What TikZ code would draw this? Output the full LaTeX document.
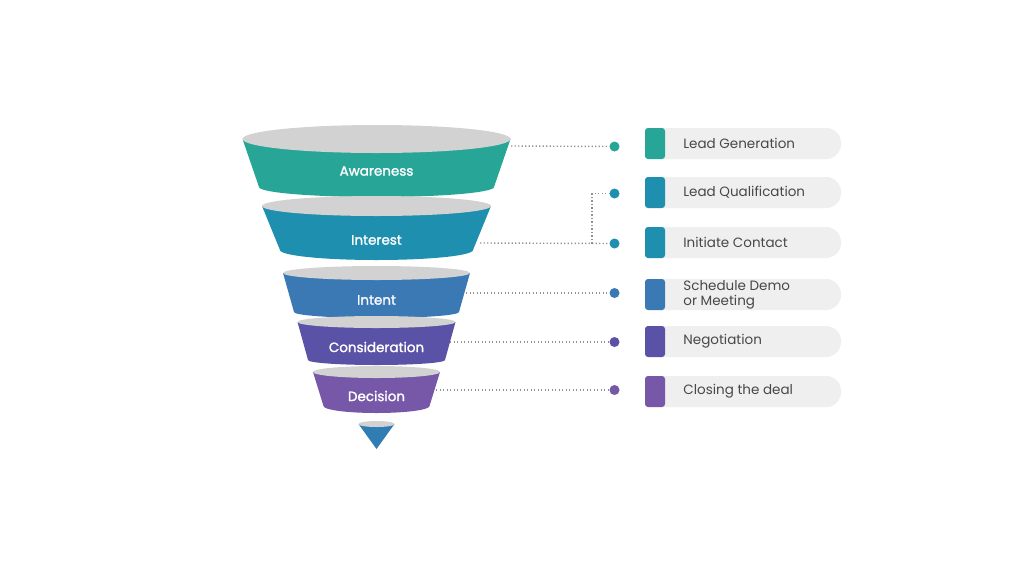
\documentclass[tikz,border=0pt]{standalone}
\usepackage{fontspec}
\setmainfont{Poppins}
\newfontfamily\stagefont[FakeBold=1.6]{Poppins}
\usetikzlibrary{positioning,calc}
\definecolor{awarecol}{HTML}{27A597}
\definecolor{interestcol}{HTML}{1E8FAE}
\definecolor{intentcol}{HTML}{3B79B5}
\definecolor{considcol}{HTML}{5A52A6}
\definecolor{decisioncol}{HTML}{7657A8}
\definecolor{tipcol}{HTML}{2F7DB3}
\definecolor{lidgray}{HTML}{D2D2D2}
\definecolor{cardgray}{HTML}{EFEFEF}
\definecolor{cardtextcol}{HTML}{484848}
\tikzset{
  lid/.style={fill=lidgray},
  stagelabel/.style={text=white,inner sep=0pt,font=\stagefont\fontsize{13.5}{15}\selectfont},
  hookdot/.style={circle,inner sep=0pt,minimum size=10pt},
  linkline/.style={line width=1.4pt,dash pattern=on 1.3pt off 2.2pt,color=gray!85},
  card/.style={fill=cardgray,rounded corners=15pt,minimum width=196pt,minimum height=31pt,inner sep=0pt},
  cardbar/.style={rounded corners=3pt,minimum width=20pt,minimum height=31pt,inner sep=0pt},
  cardtext/.style={text=cardtextcol,inner sep=0pt,align=left,font=\fontsize{13.5}{15}\selectfont}
}
\begin{document}
\begin{tikzpicture}[x=1pt,y=-1pt]
  \useasboundingbox[fill=white] (0,0) rectangle (1024,576);
  % funnel stages: top y / top ry / top half width / bottom y / bottom ry / bottom half width
  \foreach \yt/\rt/\wt/\yb/\rb/\wb/\yl/\col/\nm/\txt in {
      139/14/134/187/10/117.5/171/awarecol/aware/Awareness,
      206/10/114.5/250/10/96.5/240/interestcol/interest/Interest,
      273/7/93.5/312/6/82.5/300/intentcol/intent/Intent,
      322/6/79/360/5/68.5/347/considcol/consid/Consideration,
      372/6/63.5/406/7/53/396/decisioncol/decision/Decision}{
    \fill[\col] (376.5-\wt,\yt) -- (376.5-\wb,\yb) -- (376.5+\wb,\yb) -- (376.5+\wt,\yt) -- cycle;
    \fill[\col] (376.5,\yb) ellipse [x radius=\wb, y radius=\rb];
    \fill[lid] (376.5,\yt) ellipse [x radius=\wt, y radius=\rt];
    \node[stagelabel] (\nm) at (376.5,\yl) {\txt};
  }
  \fill[tipcol] (358.5,424) -- (376.5,449) -- (394.5,424) -- cycle;
  \fill[lid] (376.5,424) ellipse [x radius=18, y radius=3];

  % where the dotted links leave the funnel
  \coordinate (aware-r) at (511,146);
  \coordinate (interest-r) at (480,243);
  \coordinate (intent-r) at (466,293);
  \coordinate (consid-r) at (450,342);
  \coordinate (decision-r) at (436,390);

  % step cards
  \foreach \y/\yd/\col/\nm/\txt in {
      143.5/146.5/awarecol/gen/Lead Generation,
      192.5/193.5/interestcol/qual/Lead Qualification,
      242.5/243.5/interestcol/contact/Initiate Contact,
      294.5/293/intentcol/demo/Schedule Demo\\or Meeting,
      341.5/342/considcol/nego/Negotiation,
      391.5/390/decisioncol/close/Closing the deal}{
    \node[card] (\nm) at (743,\y) {};
    \node[cardbar, fill=\col, anchor=west] (\nm-bar) at (\nm.west) {};
    \node[cardtext, anchor=west, right=18pt of \nm-bar] (\nm-text) {\txt};
    \node[hookdot, fill=\col] (\nm-dot) at (614.5,\yd) {};
  }

  \draw[linkline] (aware-r) -- (gen-dot);
  \draw[linkline] (interest-r) -- (contact-dot);
  \draw[linkline] (contact-dot -| 592,0) |- (qual-dot);
  \draw[linkline] (intent-r) -- (demo-dot);
  \draw[linkline] (consid-r) -- (nego-dot);
  \draw[linkline] (decision-r) -- (close-dot);
\end{tikzpicture}
\end{document}
